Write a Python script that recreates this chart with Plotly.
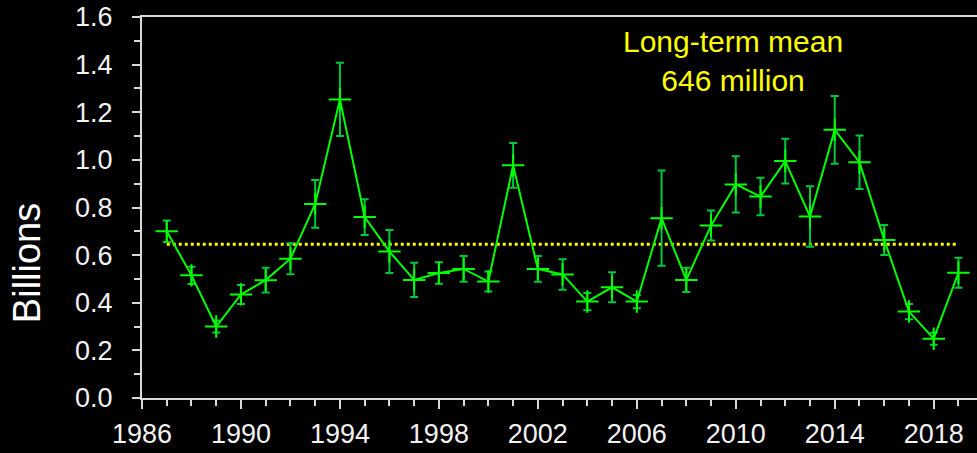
import plotly.graph_objects as go

years = list(range(1987, 2020))
values = [0.700, 0.515, 0.300, 0.435, 0.495, 0.585, 0.815, 1.254, 0.760, 0.615,
          0.496, 0.525, 0.542, 0.489, 0.977, 0.542, 0.519, 0.405, 0.465, 0.405,
          0.755, 0.496, 0.724, 0.897, 0.846, 0.995, 0.762, 1.126, 0.990, 0.664,
          0.363, 0.249, 0.526]
errors = [0.045, 0.036, 0.025, 0.040, 0.052, 0.065, 0.100, 0.154, 0.075, 0.090,
          0.072, 0.045, 0.054, 0.042, 0.094, 0.054, 0.064, 0.036, 0.063, 0.028,
          0.200, 0.051, 0.063, 0.118, 0.079, 0.094, 0.127, 0.142, 0.112, 0.063,
          0.032, 0.025, 0.063]
mean_value = 0.646
mean_years = [1987, 2019]
annotation_text = "Long-term mean<br>646 million"
y_title = "Billions"

tick_font = dict(family="Liberation Sans Narrow, Arial Narrow, Liberation Sans, sans-serif",
                 size=27, color="#f2f2f2")
axis_col = "#d9d9d9"

fig = go.Figure()
fig.add_trace(go.Scatter(
    x=mean_years, y=[mean_value, mean_value], mode="lines",
    line=dict(color="#ffff00", width=3, dash="dot"), hoverinfo="skip", showlegend=False))
fig.add_trace(go.Scatter(
    x=years, y=values, mode="lines+markers",
    line=dict(color="#00ff00", width=2),
    marker=dict(symbol="cross-thin", size=16, line=dict(color="#00ff00", width=2), color="#00ff00"),
    error_y=dict(type="data", array=errors, visible=True, color="#00c83c", thickness=2, width=4),
    showlegend=False))

fig.update_layout(
    width=977, height=453,
    paper_bgcolor="black", plot_bgcolor="black",
    margin=dict(l=142, r=0, t=17, b=55),
    xaxis=dict(range=[1986, 2019.75], tick0=1986, dtick=4, showgrid=False, zeroline=False,
               showline=True, linecolor=axis_col, linewidth=2, mirror=True,
               ticks="outside", ticklen=9, tickwidth=2, tickcolor=axis_col,
               minor=dict(dtick=1, ticks="outside", ticklen=6, tickwidth=2, tickcolor=axis_col),
               tickfont=tick_font, ticklabelstandoff=2),
    yaxis=dict(range=[0, 1.6], dtick=0.2, tickformat=".1f", showgrid=False, zeroline=False,
               showline=True, linecolor=axis_col, linewidth=2,
               ticks="outside", ticklen=8, tickwidth=2, tickcolor=axis_col,
               minor=dict(dtick=0.1, ticks="outside", ticklen=6, tickwidth=2, tickcolor=axis_col),
               tickfont=tick_font, ticklabelstandoff=14),
    annotations=[
        dict(text=annotation_text, xref="paper", yref="paper", x=0.708, y=0.885,
             xanchor="center", yanchor="middle", showarrow=False,
             font=dict(family="Liberation Sans, Arial, sans-serif", size=30, color="#ffff00")),
        dict(text=y_title, xref="paper", yref="paper", x=-0.1377, y=0.354,
             xanchor="center", yanchor="middle", textangle=-90, showarrow=False,
             font=dict(family="Liberation Sans, Arial, sans-serif", size=38, color="white")),
    ],
)

fig.write_html("out.html", config={"displayModeBar": False},
               post_script="document.body.style.margin='0';document.body.style.background='black';document.body.style.overflow='hidden';")
